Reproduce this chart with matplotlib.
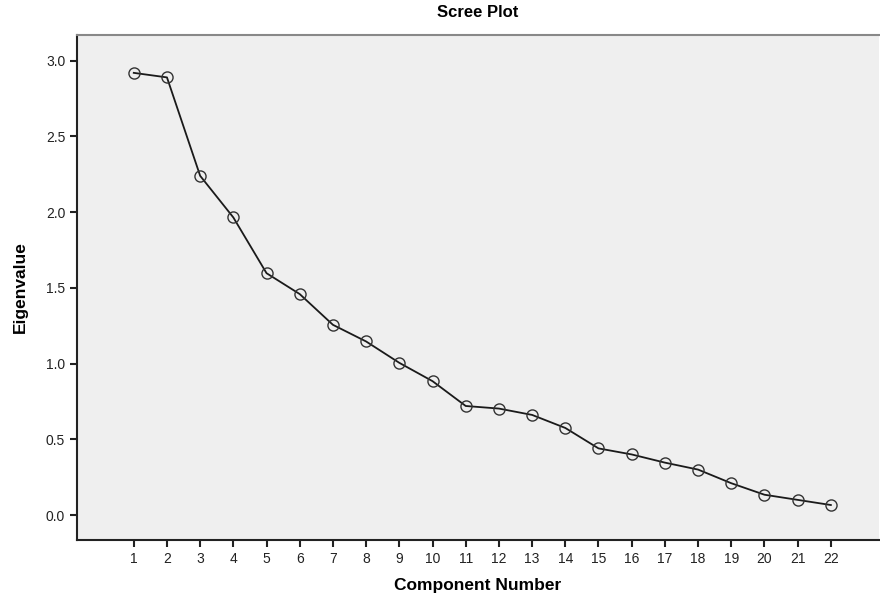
import numpy as np
import matplotlib.pyplot as plt

plt.rcParams['font.family'] = ['Liberation Sans', 'DejaVu Sans']

components = list(range(1, 23))
eigenvalues = [2.92, 2.89, 2.24, 1.965, 1.597, 1.459, 1.256, 1.146, 1.005, 0.884,
               0.720, 0.703, 0.661, 0.575, 0.440, 0.400, 0.346, 0.300, 0.210, 0.134,
               0.100, 0.066]
yticks = [0.0, 0.5, 1.0, 1.5, 2.0, 2.5, 3.0]

fig = plt.figure(figsize=(8.8, 5.99), dpi=100)
ax = fig.add_axes([77/880, 59/599, 802/880, 505/599])
ax.set_facecolor('#efefef')

ax.plot(components, eigenvalues, color='#1a1a1a', lw=1.3,
        marker='o', markersize=8, markerfacecolor='none',
        markeredgecolor='#333333', markeredgewidth=1.0)

ax.set_xlim(-0.71, 23.45)
ax.set_ylim(-0.165, 3.17)
ax.set_xticks(components)
ax.set_yticks(yticks)
ax.set_yticklabels(['%.1f' % v for v in yticks])

ax.tick_params(direction='out', length=5, width=1.5, labelsize=10,
               labelcolor='#222222', colors='#222222')
for s in ['left', 'bottom']:
    ax.spines[s].set_linewidth(1.5)
    ax.spines[s].set_color('#222222')
ax.spines['top'].set_color('#888888')
ax.spines['top'].set_linewidth(1.5)
ax.spines['right'].set_visible(False)

ax.set_title('Scree Plot', fontsize=12, fontweight='bold', pad=13)
ax.set_xlabel('Component Number', fontsize=12.5, fontweight='bold', labelpad=9)
ax.set_ylabel('Eigenvalue', fontsize=12.5, fontweight='bold', labelpad=13)

fig.savefig('out.png', dpi=100)
